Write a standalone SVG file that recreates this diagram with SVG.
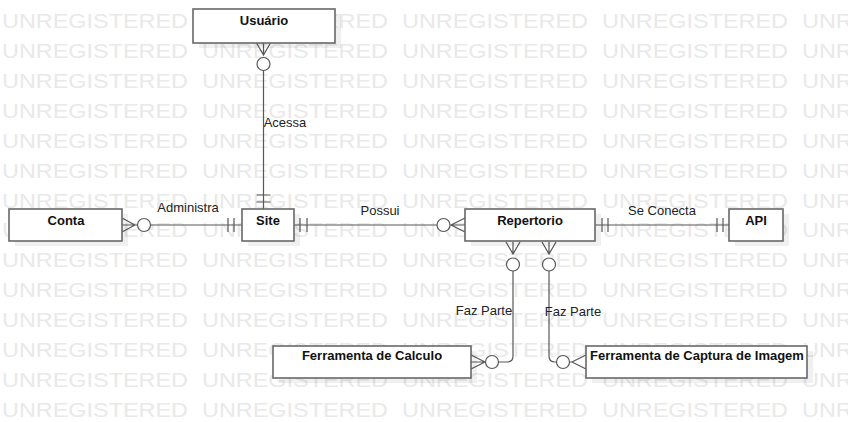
<svg xmlns="http://www.w3.org/2000/svg" xmlns:xlink="http://www.w3.org/1999/xlink" width="848" height="422" viewBox="0 0 848 422">
<style>
.wm{font-family:"Liberation Sans",Arial,sans-serif;font-size:21px;fill:#e9e9e9}
.box{fill:#fff;stroke:#686868;stroke-width:1.6}
.sh{fill:#000;fill-opacity:0.06}
.nm{font-family:"Liberation Sans",Arial,sans-serif;font-size:13px;font-weight:bold;fill:#111;text-anchor:middle}
.lb{font-family:"Liberation Sans",Arial,sans-serif;font-size:13px;fill:#222;text-anchor:middle}
.ln{fill:none;stroke:#585858;stroke-width:1.2}
.cr{fill:#fff;stroke:#585858;stroke-width:1.2}
</style>
<defs>
<text id="wmrow" class="wm" y="0"><tspan x="2" textLength="186" lengthAdjust="spacingAndGlyphs">UNREGISTERED</tspan><tspan x="202" textLength="186" lengthAdjust="spacingAndGlyphs">UNREGISTERED</tspan><tspan x="402" textLength="186" lengthAdjust="spacingAndGlyphs">UNREGISTERED</tspan><tspan x="602" textLength="186" lengthAdjust="spacingAndGlyphs">UNREGISTERED</tspan><tspan x="802" textLength="186" lengthAdjust="spacingAndGlyphs">UNREGISTERED</tspan></text>
</defs>
<rect x="0" y="0" width="848" height="422" fill="#fff"/>
<g id="watermark">
<use xlink:href="#wmrow" href="#wmrow" transform="translate(0,28)"/>
<use xlink:href="#wmrow" href="#wmrow" transform="translate(0,57.9)"/>
<use xlink:href="#wmrow" href="#wmrow" transform="translate(0,87.8)"/>
<use xlink:href="#wmrow" href="#wmrow" transform="translate(0,117.8)"/>
<use xlink:href="#wmrow" href="#wmrow" transform="translate(0,147.7)"/>
<use xlink:href="#wmrow" href="#wmrow" transform="translate(0,177.6)"/>
<use xlink:href="#wmrow" href="#wmrow" transform="translate(0,207.5)"/>
<use xlink:href="#wmrow" href="#wmrow" transform="translate(0,237.4)"/>
<use xlink:href="#wmrow" href="#wmrow" transform="translate(0,267.4)"/>
<use xlink:href="#wmrow" href="#wmrow" transform="translate(0,297.3)"/>
<use xlink:href="#wmrow" href="#wmrow" transform="translate(0,327.2)"/>
<use xlink:href="#wmrow" href="#wmrow" transform="translate(0,357.1)"/>
<use xlink:href="#wmrow" href="#wmrow" transform="translate(0,387)"/>
<use xlink:href="#wmrow" href="#wmrow" transform="translate(0,417)"/>
</g>
<g id="connectors">
<!-- Usuario - Site -->
<path class="ln" d="M256.5,43 L263.5,55 L270.5,43 M263.5,43 V55 M263.5,70.5 V209 M256.5,195 H270.5 M256.5,202 H270.5"/>
<circle class="cr" cx="263.5" cy="64" r="6.5"/>
<text class="lb" x="285" y="127">Acessa</text>
<!-- Conta - Site -->
<path class="ln" d="M122,218 L135,225 L122,232 M122,225 H137.5 M150.5,225 H242 M228,218 V232 M234,218 V232"/>
<circle class="cr" cx="144" cy="225" r="6.5"/>
<text class="lb" x="188" y="212">Administra</text>
<!-- Site - Repertorio -->
<path class="ln" d="M294,225 H437 M300,218 V232 M307,218 V232 M465,218 L451,225 L465,232 M451,225 H465"/>
<circle class="cr" cx="443.5" cy="225" r="6.5"/>
<text class="lb" x="380" y="215">Possui</text>
<!-- Repertorio - API -->
<path class="ln" d="M595,225 H729 M602,218 V232 M608,218 V232 M717,218 V232 M723,218 V232"/>
<text class="lb" x="662" y="215">Se Conecta</text>
<!-- Repertorio - Ferramenta de Calculo -->
<path class="ln" d="M506,242 L513,254 L520,242 M513,242 V254 M513,271 V356 Q513,362 507,362 H498.5 M471,355 L485,362 L471,369 M471,362 H485.5"/>
<circle class="cr" cx="513" cy="264.5" r="6.5"/>
<circle class="cr" cx="492" cy="362" r="6.5"/>
<text class="lb" x="484" y="315">Faz Parte</text>
<!-- Repertorio - Ferramenta de Captura -->
<path class="ln" d="M542,242 L549,254 L556,242 M549,242 V254 M549,271 V356 Q549,362 555,362 H556.5 M586,355 L572,362 L586,369 M572,362 H569.5"/>
<circle class="cr" cx="549" cy="264.5" r="6.5"/>
<circle class="cr" cx="563" cy="362" r="6.5"/>
<text class="lb" x="573" y="316">Faz Parte</text>
</g>
<g id="usuario">
<rect class="sh" x="199" y="14" width="142" height="34"/>
<rect class="box" x="193" y="9" width="142" height="34"/>
<text class="nm" x="264" y="25">Usuário</text>
</g>
<g id="conta">
<rect class="sh" x="15" y="214" width="113" height="32"/>
<rect class="box" x="9" y="209" width="113" height="32"/>
<text class="nm" x="66" y="225">Conta</text>
</g>
<g id="site">
<rect class="sh" x="248" y="214" width="52" height="32"/>
<rect class="box" x="242" y="209" width="52" height="32"/>
<text class="nm" x="268" y="225">Site</text>
</g>
<g id="repertorio">
<rect class="sh" x="471" y="214" width="130" height="32"/>
<rect class="box" x="465" y="209" width="130" height="32"/>
<text class="nm" x="530" y="225">Repertorio</text>
</g>
<g id="api">
<rect class="sh" x="735" y="214" width="54" height="32"/>
<rect class="box" x="729" y="209" width="54" height="32"/>
<text class="nm" x="756" y="225">API</text>
</g>
<g id="calculo">
<rect class="sh" x="279" y="351" width="198" height="32"/>
<rect class="box" x="273" y="346" width="198" height="32"/>
<text class="nm" x="372" y="360">Ferramenta de Calculo</text>
</g>
<g id="captura">
<rect class="sh" x="592" y="351" width="221" height="32"/>
<rect class="box" x="586" y="346" width="221" height="32"/>
<text class="nm" x="697" y="360">Ferramenta de Captura de Imagem</text>
</g>
</svg>
